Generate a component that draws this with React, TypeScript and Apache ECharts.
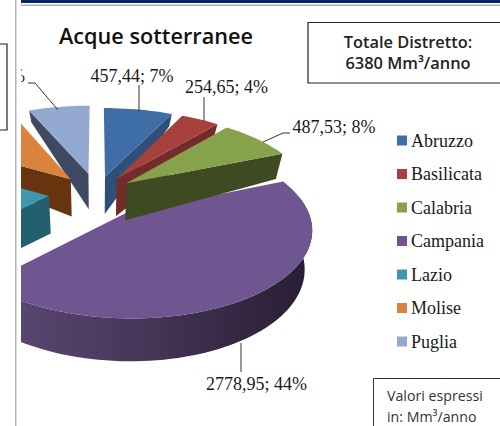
import React, { useEffect, useRef } from "react";
import * as echarts from "echarts";

const categories = ["Abruzzo", "Basilicata", "Calabria", "Campania", "Lazio", "Molise", "Puglia"];
const values = [457.44, 254.65, 487.53, 2778.95, 1340, 653, 408.43];
const topColors = ["#3F6EA6", "#A73F3D", "#86A24B", "#6F5690", "#3F97AE", "#D9833C", "#93A9CF"];
const wallColors = ["#2D4F78", "#752B2A", "#3D4A22", "#3E2F52", "#22606F", "#663510", "#3E4A62"];
const explosions = [0.2, 0.2, 0.2, 0.27, 0.26, 0.22, 0.24];
const radii = [1, 1, 1, 0.95, 1, 1, 1];
const stackOrder = [1, 2, 8, 7, 6, 4, 0];
const titleText = "Acque sotterranee";
const totalLines = ["Totale Distretto:", "6380 Mm³/anno"];
const unitLines = ["Valori espressi", "in: Mm³/anno"];
const dropAtV = [-1.2, -0.2, 0.2, 0.5, 1.1];
const dropPx = [43, 38, 37, 25, 12];

const labelSpots: any[] = [
  { x: 132, y: 76, line: [[139, 111], [139, 85]] },
  { x: 226.5, y: 87, line: [[204, 121], [204, 97]] },
  { x: 334, y: 127, line: [[263, 142], [283, 133], [290, 133]] },
  { x: 256.5, y: 384, line: [[241, 343], [241, 372]] },
  null,
  null,
  { x: 25, y: 76, align: "right", pctOnly: true, line: [[58, 110], [35, 83], [28, 83]] },
];

const total = values.reduce((a, b) => a + b, 0);
const CX = 97, CY = 193, A = 185, B = 85.5, P = 0.17, BOTTOM_X = 0.965;
const rad = (d: number) => (d * Math.PI) / 180;

function dropFor(v: number) {
  if (v <= dropAtV[0]) return dropPx[0];
  for (let i = 1; i < dropAtV.length; i++) {
    if (v <= dropAtV[i]) {
      const t = (v - dropAtV[i - 1]) / (dropAtV[i] - dropAtV[i - 1]);
      return dropPx[i - 1] + t * (dropPx[i] - dropPx[i - 1]);
    }
  }
  return dropPx[dropPx.length - 1];
}

function project(u: number, v: number) {
  const k = 1 + P * v;
  const x = CX + (A * u) / k;
  const y = CY - (B * v) / k;
  return { x, y, bx: CX + (x - CX) * BOTTOM_X, by: y + dropFor(v) };
}

function sliceChildren(index: number, value: number) {
  const before = values.slice(0, index).reduce((a, b) => a + b, 0);
  const start = (before / total) * 360;
  const end = start + (value / total) * 360;
  const mid = rad((start + end) / 2);
  const e = explosions[index];
  const r = radii[index];
  const ou = e * Math.sin(mid), ov = e * Math.cos(mid);
  const apex = project(ou, ov);
  const rim: any[] = [];
  const steps = Math.max(4, Math.ceil((end - start) / 2));
  for (let i = 0; i <= steps; i++) {
    const a = start + ((end - start) * i) / steps;
    const p = project(ou + r * Math.sin(rad(a)), ov + r * Math.cos(rad(a)));
    rim.push({ ...p, a });
  }
  const top = [[apex.x, apex.y], ...rim.map((p) => [p.x, p.y])];
  const poly = (points: number[][], fill: any) => ({
    type: "polygon",
    shape: { points },
    style: { fill, stroke: "none" },
    silent: true,
  });
  const radial = (p: any) => poly(
    [[apex.x, apex.y], [p.x, p.y], [p.bx, p.by], [apex.bx, apex.by]],
    wallColors[index]
  );
  const out: any[] = [];
  const first = rim[0], last = rim[rim.length - 1];
  if (Math.sin(rad(start)) < -0.001) out.push(radial(first));
  if (Math.sin(rad(end)) > 0.001) out.push(radial(last));
  const front = rim.filter((p) => Math.cos(rad(p.a)) <= 0.2);
  if (front.length > 1) {
    const pts = [...front.map((p) => [p.x, p.y]), ...front.slice().reverse().map((p) => [p.bx, p.by])];
    out.push(poly(pts, {
      type: "linear", x: 0, y: 0, x2: 1, y2: 0,
      colorStops: [
        { offset: 0, color: "#5E4A78" },
        { offset: 0.5, color: "#463557" },
        { offset: 1, color: "#281D33" },
      ],
    }));
  }
  out.push(poly(top, topColors[index]));
  const spot = labelSpots[index];
  if (spot) {
    const pct = Math.round((value / 6380) * 100);
    const full = `${value.toFixed(2).replace(".", ",")}; ${pct}%`;
    out.push({
      type: "polyline",
      shape: { points: spot.line },
      style: { stroke: "#333", lineWidth: 1, fill: "none" },
      silent: true,
    });
    out.push({
      type: "text",
      x: spot.x,
      y: spot.y,
      style: {
        text: spot.pctOnly ? `${pct}%` : full,
        font: "18px 'Liberation Serif'",
        fill: "#1a1a1a",
        align: spot.align || "center",
        verticalAlign: "middle",
      },
      silent: true,
    });
  }
  return out;
}

export default function App() {
  const ref = useRef<HTMLDivElement>(null);
  useEffect(() => {
    document.body.style.margin = "0";
    const chart = echarts.init(ref.current!, undefined, { renderer: "svg" });
    chart.setOption({
      animation: false,
      backgroundColor: "#ffffff",
      legend: {
        orient: "vertical",
        left: 392,
        top: 126,
        icon: "rect",
        itemWidth: 10,
        itemHeight: 10,
        itemGap: 14.5,
        selectedMode: false,
        data: categories,
        textStyle: {
          fontFamily: "'Liberation Serif'",
          fontSize: 18,
          color: "#1a1a1a",
          padding: [0, 0, 0, -1],
          height: 19,
          lineHeight: 19,
        },
      },
      series: categories.map((name, i) => ({
        type: "custom",
        name,
        coordinateSystem: "none",
        z: 2 + stackOrder[i],
        silent: true,
        itemStyle: { color: topColors[i] },
        data: [[values[i]]],
        renderItem: (_: any, api: any) => ({
          type: "group",
          children: sliceChildren(i, api.value(0)),
        }),
      })),
      graphic: [
        { type: "rect", z: 50, shape: { x: 0, y: 0, width: 21, height: 426 }, style: { fill: "#fff" } },
        { type: "rect", z: 51, shape: { x: -2, y: 44, width: 9, height: 86 }, style: { fill: "#fff", stroke: "#222", lineWidth: 1.2 } },
        { type: "rect", z: 51, shape: { x: 15, y: 0, width: 1.5, height: 426 }, style: { fill: "#B4B4B4" } },
        { type: "rect", z: 51, shape: { x: 21, y: 0, width: 479, height: 3 }, style: { fill: "#0A2463" } },
        { type: "rect", z: 51, shape: { x: 21, y: 4.5, width: 479, height: 1.5 }, style: { fill: "#B0B0B0" } },
        { type: "text", z: 52, x: 156, y: 35, style: { text: titleText, font: "600 21.7px 'Open Sans'", fill: "#111", align: "center", verticalAlign: "middle" } },
        { type: "rect", z: 51, shape: { x: 308, y: 22.5, width: 200, height: 60.5 }, style: { fill: "#fff", stroke: "#222", lineWidth: 1.2 } },
        { type: "text", z: 52, x: 408, y: 41, style: { text: totalLines[0], font: "600 16.4px 'Open Sans'", fill: "#222", align: "center", verticalAlign: "middle" } },
        { type: "text", z: 52, x: 408, y: 62, style: { text: totalLines[1], font: "600 16.4px 'Open Sans'", fill: "#222", align: "center", verticalAlign: "middle" } },
        { type: "rect", z: 51, shape: { x: 373.5, y: 378.5, width: 140, height: 60 }, style: { fill: "#fff", stroke: "#333", lineWidth: 1 } },
        { type: "text", z: 52, x: 387, y: 395, style: { text: unitLines[0], font: "14.2px 'Open Sans'", fill: "#333", align: "left", verticalAlign: "middle" } },
        { type: "text", z: 52, x: 387, y: 416, style: { text: unitLines[1], font: "14.2px 'Open Sans'", fill: "#333", align: "left", verticalAlign: "middle" } },
      ],
    });
    return () => chart.dispose();
  }, []);
  return <div ref={ref} style={{ position: "fixed", left: 0, top: 0, width: 500, height: 426 }} />;
}
